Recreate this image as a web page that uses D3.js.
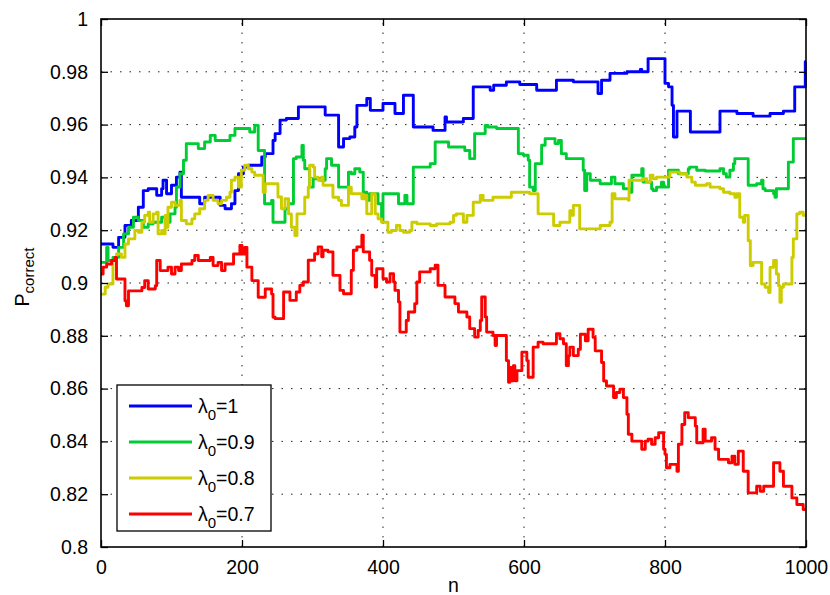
<!DOCTYPE html>
<html><head><meta charset="utf-8">
<script src="https://cdn.jsdelivr.net/npm/d3@7"></script>
<style>body{margin:0;background:#fff}svg{display:block}text{font-family:"Liberation Sans",Arial,Helvetica,sans-serif}</style>
</head><body><svg id="c" width="830" height="595"></svg>
<script>
const xTicks=[0,200,400,600,800,1000];
const yTicks=[0.8,0.82,0.84,0.86,0.88,0.9,0.92,0.94,0.96,0.98,1];
const seriesNames=["1","0.9","0.8","0.7"];
const seriesColors=["#0000ff","#00cc33","#cccc00","#ff0000"];

const nBlue=[0,10,17,25,34,43,53,60,67,79,86,88,93,100,107,112,114,140,147,169,176,185,190,195,202,209,228,233,244,247,254,263,280,318,337,344,353,360,363,377,382,400,417,429,443,471,486,488,490,514,528,552,557,575,594,618,646,670,705,710,722,746,765,767,776,800,805,810,812,817,836,878,902,925,949,968,984,999,1000];
const pBlue=[0.9148,0.9148,0.9135,0.9173,0.9218,0.9237,0.9287,0.935,0.9357,0.9332,0.9357,0.9389,0.9338,0.937,0.9401,0.942,0.9325,0.93,0.9325,0.9294,0.9281,0.93,0.935,0.9414,0.9439,0.9446,0.9477,0.949,0.954,0.9566,0.9617,0.9623,0.9667,0.9636,0.9515,0.9547,0.9553,0.9591,0.9673,0.9699,0.9654,0.968,0.9642,0.9711,0.9591,0.9578,0.9578,0.9629,0.961,0.9623,0.9743,0.973,0.9749,0.9762,0.9752,0.973,0.9768,0.9762,0.9718,0.9768,0.9794,0.98,0.9809,0.98,0.985,0.9756,0.9743,0.9673,0.9553,0.9651,0.9572,0.9651,0.9642,0.9632,0.9642,0.9651,0.9743,0.9838,0.9838];

const nGreen=[0,8,10,17,25,32,39,46,53,60,67,74,86,93,98,105,107,112,117,121,138,147,155,162,183,190,211,218,223,232,242,244,261,266,273,277,285,287,289,296,301,311,318,320,327,337,351,355,360,367,372,377,381,393,398,400,422,431,434,443,467,474,493,516,523,530,545,549,561,592,599,606,608,613,616,625,630,644,649,653,660,684,686,689,694,708,724,729,741,750,753,767,769,781,783,788,795,798,805,819,833,835,845,857,878,883,887,892,897,899,918,930,937,939,942,954,956,958,975,982,1000];
const pGreen=[0.9078,0.9135,0.9085,0.9097,0.9135,0.9186,0.9211,0.9249,0.9237,0.9211,0.9224,0.923,0.9249,0.923,0.9262,0.9287,0.9363,0.9414,0.9465,0.9528,0.9509,0.9534,0.9559,0.954,0.9559,0.9585,0.9572,0.9597,0.9502,0.93,0.9313,0.923,0.9281,0.93,0.9471,0.9477,0.9521,0.9465,0.9433,0.9363,0.9395,0.9389,0.9433,0.9471,0.9446,0.9363,0.942,0.9414,0.9433,0.942,0.9344,0.9313,0.9338,0.93,0.9237,0.9338,0.93,0.9332,0.93,0.9439,0.9452,0.9534,0.9515,0.9502,0.9471,0.9566,0.9597,0.9591,0.9585,0.949,0.9484,0.9465,0.9363,0.935,0.9452,0.9522,0.9547,0.9528,0.954,0.949,0.9471,0.9427,0.935,0.9414,0.9389,0.9376,0.9401,0.9376,0.9357,0.9344,0.9408,0.9433,0.9382,0.9357,0.935,0.9363,0.9382,0.9363,0.9427,0.9414,0.9433,0.9439,0.9427,0.9424,0.9433,0.9414,0.9401,0.9427,0.9452,0.9471,0.937,0.9376,0.9389,0.9357,0.935,0.9338,0.9325,0.9357,0.9458,0.9547,0.9547];

const nYellow=[0,6,10,17,22,29,34,39,48,53,58,62,67,69,74,79,81,86,88,91,93,95,100,105,112,114,121,129,133,140,147,152,159,166,171,178,183,185,190,195,199,204,209,214,218,230,233,251,256,261,266,270,275,278,289,294,296,301,303,308,313,315,329,337,341,351,355,370,374,377,384,389,393,398,407,412,419,424,429,438,441,448,467,476,495,500,504,514,519,528,538,542,556,582,608,620,642,651,665,668,670,679,708,722,725,729,748,749,769,774,779,783,788,807,821,831,838,843,859,864,878,883,892,899,902,906,911,913,918,921,925,937,942,947,949,954,958,961,963,965,968,980,982,987,991,996,1000];
const pYellow=[0.8958,0.8984,0.8996,0.9085,0.911,0.9097,0.9148,0.9167,0.9199,0.9192,0.923,0.9256,0.9268,0.923,0.9262,0.9268,0.9186,0.9199,0.9186,0.9256,0.9211,0.9287,0.9306,0.9294,0.9313,0.9237,0.9224,0.9243,0.9262,0.9281,0.9313,0.9332,0.9313,0.93,0.9313,0.9325,0.9344,0.9389,0.9401,0.9363,0.9427,0.9446,0.9433,0.942,0.9408,0.9344,0.9376,0.9326,0.9281,0.9319,0.9262,0.9211,0.918,0.9262,0.9325,0.9363,0.9446,0.9439,0.9401,0.9389,0.9401,0.937,0.9325,0.9313,0.9294,0.9363,0.9338,0.9319,0.9332,0.9262,0.9338,0.9262,0.9243,0.923,0.9192,0.9199,0.9218,0.9199,0.9192,0.9199,0.923,0.9224,0.9218,0.9224,0.923,0.9256,0.9262,0.923,0.9256,0.9306,0.9332,0.9313,0.9325,0.9344,0.9338,0.9262,0.9218,0.923,0.9274,0.9256,0.9294,0.9205,0.9218,0.923,0.9338,0.9319,0.9313,0.9389,0.9395,0.9382,0.9408,0.9395,0.9401,0.942,0.9414,0.9401,0.9382,0.937,0.9376,0.9363,0.9357,0.9344,0.9338,0.9325,0.9338,0.9249,0.923,0.9256,0.916,0.9066,0.9078,0.8996,0.8984,0.8964,0.9059,0.9085,0.9034,0.899,0.8927,0.8984,0.8996,0.9097,0.9167,0.9262,0.9268,0.9256,0.9256];

const nRed=[0,3,8,15,20,22,34,36,39,58,62,67,77,79,84,95,100,105,110,114,129,133,138,155,159,166,171,176,188,197,200,204,207,214,223,233,242,244,247,259,268,277,282,287,294,303,308,313,315,322,329,339,344,355,358,363,370,372,381,384,389,391,400,405,410,415,417,422,424,433,436,445,448,452,467,474,478,488,502,507,519,523,530,535,538,540,545,547,556,559,561,571,575,578,580,582,585,587,590,597,604,606,613,620,627,646,651,656,660,663,665,670,677,680,687,691,698,701,710,713,717,727,731,736,741,746,748,753,767,772,776,781,786,791,798,800,802,807,817,819,824,828,833,843,845,854,857,866,871,876,890,895,899,904,911,918,930,935,940,954,963,968,980,987,996,1000];
const pRed=[0.9034,0.906,0.9072,0.9085,0.9097,0.9015,0.8933,0.8914,0.897,0.8983,0.9009,0.8977,0.899,0.9085,0.9047,0.906,0.9034,0.906,0.9047,0.9072,0.9085,0.9104,0.9085,0.9097,0.9066,0.9078,0.9047,0.9072,0.911,0.9142,0.911,0.9135,0.906,0.9009,0.8946,0.8977,0.8958,0.887,0.8865,0.8966,0.8934,0.8966,0.8991,0.9004,0.9086,0.9111,0.9137,0.9099,0.9124,0.9118,0.9029,0.8972,0.8959,0.9048,0.9124,0.9137,0.9181,0.9118,0.9086,0.9029,0.8985,0.9054,0.9016,0.9004,0.9035,0.9004,0.8972,0.8928,0.8814,0.8858,0.889,0.8922,0.9004,0.9042,0.9054,0.9067,0.8991,0.8947,0.8922,0.889,0.8871,0.8827,0.8795,0.882,0.8858,0.8947,0.8871,0.8814,0.8801,0.8763,0.8801,0.8801,0.8706,0.8624,0.868,0.863,0.8687,0.863,0.8668,0.8738,0.8706,0.8643,0.8757,0.8776,0.877,0.8808,0.8789,0.877,0.8687,0.8725,0.8757,0.8725,0.8749,0.8806,0.8781,0.8825,0.8794,0.8743,0.8699,0.8629,0.861,0.8566,0.8585,0.8598,0.8566,0.8503,0.8427,0.8401,0.837,0.8401,0.8408,0.8389,0.8414,0.8433,0.837,0.8351,0.83,0.8313,0.8287,0.8389,0.8464,0.8509,0.849,0.8458,0.8395,0.8446,0.8401,0.8414,0.837,0.8332,0.8319,0.8344,0.8313,0.8363,0.8287,0.8205,0.823,0.8211,0.823,0.8319,0.8287,0.823,0.8186,0.8161,0.8142,0.8142];

const seriesN=[nBlue,nGreen,nYellow,nRed];
const seriesP=[pBlue,pGreen,pYellow,pRed];

const L=101,R=806,T=19,B=547;
const svg=d3.select("#c");
const x=d3.scaleLinear().domain([0,1000]).range([L,R]);
const y=d3.scaleLinear().domain([0.8,1]).range([B,T]);
const fs=19.5;
const lw=2.9;

// grid
const g=svg.append("g");
g.selectAll(".gx").data(xTicks.slice(1,-1)).join("line")
 .attr("x1",d=>x(d)).attr("x2",d=>x(d)).attr("y1",B).attr("y2",T)
 .attr("stroke","#222").attr("stroke-width",1).attr("stroke-dasharray","1.5,8");
g.selectAll(".gy").data(yTicks.slice(1,-1)).join("line")
 .attr("y1",d=>y(d)).attr("y2",d=>y(d)).attr("x1",L).attr("x2",R)
 .attr("stroke","#222").attr("stroke-width",1).attr("stroke-dasharray","1.5,8");

// lines
const line=d3.line().curve(d3.curveStepAfter).x(d=>x(d[0])).y(d=>y(d[1]));
seriesN.forEach((ns,i)=>{
  const pts=ns.map((n,j)=>[n,seriesP[i][j]]);
  svg.append("path").datum(pts).attr("d",line).attr("fill","none")
   .attr("stroke",seriesColors[i]).attr("stroke-width",lw).attr("stroke-linejoin","round");
});

// axes
const tl=7;
const axB=d3.axisBottom(x).tickValues(xTicks).tickSize(-tl).tickPadding(tl+6).tickFormat(d3.format("d"));
const axT=d3.axisTop(x).tickValues(xTicks).tickSize(-tl).tickFormat("");
const axL=d3.axisLeft(y).tickValues(yTicks).tickSize(-tl).tickPadding(tl+6).tickFormat(d=>d3.format("")(+d.toFixed(2)));
const axR=d3.axisRight(y).tickValues(yTicks).tickSize(-tl).tickFormat("");
function style(sel){sel.select(".domain").remove();sel.selectAll("line").attr("stroke","#000").attr("stroke-width",1.3);
 sel.selectAll("text").attr("fill","#000").style("font-size",fs+"px");}
svg.append("g").attr("transform",`translate(0,${B})`).call(axB).call(style);
svg.append("g").attr("transform",`translate(0,${T})`).call(axT).call(style);
svg.append("g").attr("transform",`translate(${L},0)`).call(axL).call(style);
svg.append("g").attr("transform",`translate(${R},0)`).call(axR).call(style);
svg.append("rect").attr("x",L).attr("y",T).attr("width",R-L).attr("height",B-T)
 .attr("fill","none").attr("stroke","#000").attr("stroke-width",1.6);

// axis labels
svg.append("text").attr("x",(L+R)/2).attr("y",592).attr("text-anchor","middle").style("font-size",fs+"px").text("n");
const yl=svg.append("text").attr("transform",`translate(29,${(T+B)/2 - 6}) rotate(-90)`).attr("text-anchor","middle").style("font-size",fs+"px");
yl.append("tspan").text("P");
yl.append("tspan").attr("dy",5).style("font-size","15px").text("correct");

// legend
const lg=svg.append("g");
lg.append("rect").attr("x",117).attr("y",385).attr("width",154).attr("height",146)
 .attr("fill","#fff").attr("stroke","#000").attr("stroke-width",1.3);
seriesNames.forEach((s,i)=>{
  const yy=406+i*36;
  lg.append("line").attr("x1",129).attr("x2",192).attr("y1",yy).attr("y2",yy)
   .attr("stroke",seriesColors[i]).attr("stroke-width",lw);
  const t=lg.append("text").attr("x",198).attr("y",yy+7).style("font-size",fs+"px");
  t.append("tspan").text("λ");
  t.append("tspan").attr("dy",7).style("font-size","15px").text("0");
  t.append("tspan").attr("dy",-7).text("="+s);
});
</script></body></html>
